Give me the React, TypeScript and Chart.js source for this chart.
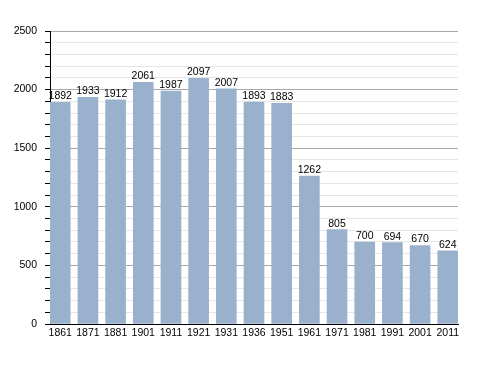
import React, { useEffect, useRef } from "react";
import { Chart, registerables } from "chart.js";

Chart.register(...registerables);

const years = ["1861", "1871", "1881", "1901", "1911", "1921", "1931", "1936", "1951", "1961", "1971", "1981", "1991", "2001", "2011"];
const population = [1892, 1933, 1912, 2061, 1987, 2097, 2007, 1893, 1883, 1262, 805, 700, 694, 670, 624];

const FONT = "'Liberation Sans', Arial, Helvetica, sans-serif";

const labelPlugin = {
  id: "barLabels",
  afterDatasetsDraw(chart: any) {
    const ctx = chart.ctx;
    const meta = chart.getDatasetMeta(0);
    ctx.save();
    ctx.fillStyle = "#000";
    ctx.font = `10.5px ${FONT}`;
    ctx.textAlign = "center";
    ctx.textBaseline = "alphabetic";
    meta.data.forEach((bar: any, i: number) => {
      ctx.fillText(String(population[i]), bar.x, bar.y - 3);
    });
    ctx.restore();
  },
};

export default function App() {
  const ref = useRef<HTMLCanvasElement>(null);
  useEffect(() => {
    if (!ref.current) return;
    const chart = new Chart(ref.current, {
      type: "bar",
      data: {
        datasets: [
          {
            data: population.map((v, i) => ({ x: i, y: v })),
            backgroundColor: "rgb(154,177,205)",
            borderWidth: 0,
            barThickness: 20,
          },
        ],
      },
      options: {
        animation: false,
        responsive: false,
        maintainAspectRatio: false,
        layout: { padding: { top: 31, right: 30, left: 0, bottom: 0 } },
        plugins: { legend: { display: false }, tooltip: { enabled: false } },
        scales: {
          x: {
            type: "linear",
            min: -0.37,
            max: years.length - 1 + 0.37,
            offset: false,
            grid: { display: false, drawTicks: false },
            border: { color: "#000", width: 1 },
            afterBuildTicks(scale: any) {
              scale.ticks = years.map((_, i) => ({ value: i }));
            },
            ticks: {
              color: "#000",
              font: { size: 10.5, family: FONT },
              padding: 3,
              maxRotation: 0,
              autoSkip: false,
              callback: (v: any) => years[Math.round(Number(v))] ?? "",
            },
            afterFit(scale: any) {
              scale.height = 49;
            },
          },
          y: {
            min: 0,
            max: 2500,
            border: { color: "#000", width: 1 },
            grid: {
              color: (c: any) => (c.tick && c.tick.value % 500 === 0 ? "#a8a8a8" : "#e6e6e6"),
              tickColor: "#000",
              tickLength: 5,
              lineWidth: 1,
            },
            ticks: {
              stepSize: 100,
              autoSkip: false,
              color: "#000",
              padding: 8,
              font: { size: 10.5, family: FONT },
              callback: (v: any) => (Number(v) % 500 === 0 ? String(v) : ""),
            },
            afterFit(scale: any) {
              scale.width = 50;
            },
          },
        },
      },
      plugins: [labelPlugin],
    });
    return () => chart.destroy();
  }, []);
  return (
    <div style={{ position: "fixed", left: 0, top: 0, width: 488, height: 373, background: "#fff" }}>
      <canvas ref={ref} width={488} height={373} style={{ width: 488, height: 373 }} />
    </div>
  );
}
